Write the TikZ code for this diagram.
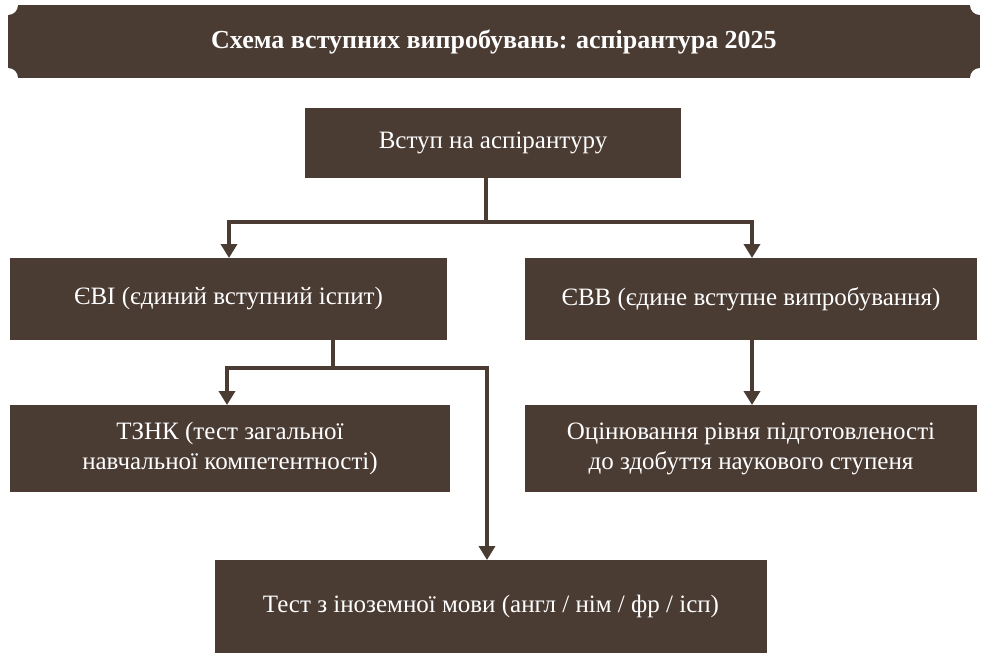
\documentclass[tikz,border=0pt]{standalone}
\usepackage{fontspec}
\setmainfont{Liberation Serif}
\usetikzlibrary{arrows.meta}
\definecolor{brn}{HTML}{4A3B33}
\begin{document}
\begin{tikzpicture}[x=1pt,y=-1pt,
  box/.style={fill=brn,text=white,font=\fontsize{25}{30}\selectfont,align=center,inner sep=0pt},
  conn/.style={draw=brn,line width=4pt},
  arr/.style={conn,-{Triangle[length=14pt,width=16pt]}}]
\useasboundingbox (0,0) rectangle (988,661);
\fill[brn] (8,5) rectangle (980,78);
\fill[white] (8,5) circle[radius=10] (980,5) circle[radius=10] (8,78) circle[radius=10] (980,78) circle[radius=10];
\node[text=white,font=\fontsize{26}{30}\selectfont\bfseries] (title) at (494,42) {Схема вступних випробувань: аспірантура 2025};
\node[box,minimum width=376pt,minimum height=70pt] (top) at (493,143) {Вступ на аспірантуру};
\node[box,minimum width=437pt,minimum height=82pt] (evi) at (228.5,299) {ЄВІ (єдиний вступний іспит)};
\node[box,minimum width=452pt,minimum height=82pt] (evv) at (751,299) {ЄВВ (єдине вступне випробування)};
\node[box,minimum width=440pt,minimum height=87pt] (tznk) at (230,448.5) {ТЗНК (тест загальної\\навчальної компетентності)};
\node[box,minimum width=452pt,minimum height=87pt] (ocin) at (751,448.5) {Оцінювання рівня підготовленості\\до здобуття наукового ступеня};
\node[box,minimum width=552pt,minimum height=93pt] (test) at (491,606.5) {Тест з іноземної мови (англ / нім / фр / ісп)};
\coordinate (j1) at (486,222);
\coordinate (j2) at (333,368);
\draw[conn] (top.south -| j1) -- (j1);
\draw[arr] (j1) -| (229,258);
\draw[arr] (j1) -| (752,258);
\draw[conn] (evi.south -| j2) -- (j2);
\draw[arr] (j2) -| (227,405);
\draw[arr] (j2) -| (487,560);
\draw[arr] (752,340) -- (752,405);
\end{tikzpicture}
\end{document}
